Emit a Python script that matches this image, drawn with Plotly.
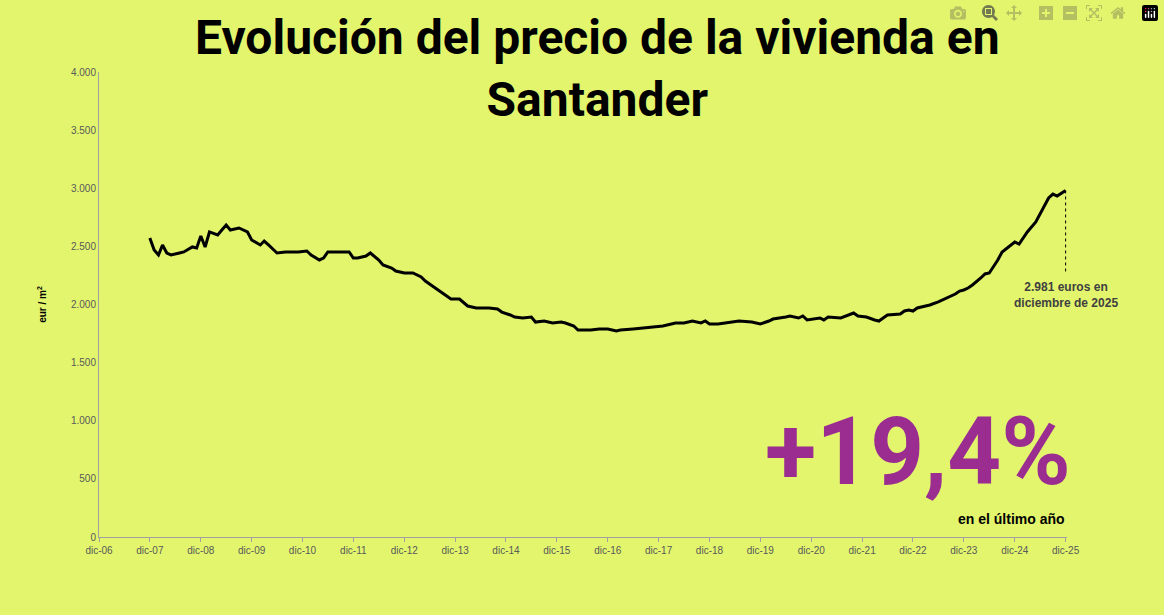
import plotly.graph_objects as go
import pandas as pd

months_since_dec07 = [0,1,2,3,4,5,7,8,10,11,12,13,14,16,17,18,19,21,23,24,26,27,28,30,32,35,37,38,40,41,42,45,47,48,49,51,52,54,55,57,58,60,62,64,65,67,68,70,71,73,74,75,77,80,82,83,85,86,88,90,91,93,95,97,98,100,101,104,106,108,110,111,114,117,119,121,124,126,128,130,131,132,134,137,139,142,144,146,147,150,151,153,154,155,157,158,159,160,163,165,166,167,169,171,172,173,174,177,178,179,180,181,184,186,187,188,190,191,192,193,194,196,197,198,199,200,201,203,204,205,206,207,209,210,211,212,213,214,216]
precio = [2572,2469,2426,2512,2443,2426,2443,2452,2495,2486,2589,2495,2624,2598,2641,2684,2641,2658,2624,2555,2512,2546,2512,2443,2452,2452,2460,2426,2383,2400,2452,2452,2452,2400,2400,2417,2443,2383,2340,2314,2288,2271,2271,2237,2202,2151,2125,2073,2047,2047,2013,1987,1970,1970,1961,1935,1910,1892,1884,1892,1849,1858,1841,1849,1841,1815,1780,1780,1789,1789,1772,1780,1789,1798,1806,1815,1841,1841,1858,1841,1858,1832,1832,1849,1858,1849,1832,1858,1875,1892,1901,1884,1901,1867,1875,1884,1867,1892,1884,1910,1927,1901,1892,1867,1858,1884,1910,1918,1944,1953,1944,1970,1996,2022,2039,2056,2090,2116,2125,2142,2168,2228,2263,2271,2323,2383,2452,2512,2538,2520,2572,2624,2710,2778,2856,2916,2950,2933,2981]
tick_labels = [f"dic-{y:02d}" for y in range(6, 26)]
y_ticks = list(range(0, 4001, 500))

dates = [pd.Timestamp("2007-12-01") + pd.DateOffset(months=m) for m in months_since_dec07]
tick_dates = [pd.Timestamp(f"20{y:02d}-12-01") for y in range(6, 26)]

bg = "#E2F56D"
fig = go.Figure(go.Scatter(x=dates, y=precio, mode="lines",
                           line=dict(color="black", width=3), hoverinfo="skip"))
fig.update_layout(
    width=1164, height=615, paper_bgcolor=bg, plot_bgcolor=bg,
    margin=dict(l=99, r=97, t=72, b=78), showlegend=False,
    separators=",.", font=dict(family="Liberation Sans", color="#595959", size=10),
    xaxis=dict(range=[tick_dates[0], tick_dates[-1] + pd.Timedelta(days=10)],
               tickvals=tick_dates, ticktext=tick_labels, showgrid=False,
               showline=True, linecolor="#A0A0A0", ticks="outside", ticklen=4,
               tickcolor="#A0A0A0", zeroline=False),
    yaxis=dict(range=[0, 4000], tickvals=y_ticks, tickformat=",d", showgrid=False,
               showline=True, linecolor="#A0A0A0", zeroline=False,
               title=dict(text="<b>eur / m<sup>2</sup></b>", font=dict(size=10, color="black"), standoff=22)),
)
fig.add_annotation(xref="paper", yref="paper", x=0.515, y=1.14, yanchor="top", showarrow=False,
                   text="<b>Evolución del precio de la vivienda en<br>Santander</b>",
                   font=dict(family="Roboto", size=48, color="black"))
fig.add_shape(type="line", x0=dates[-1], x1=dates[-1], y0=precio[-1], y1=2270,
              line=dict(color="black", width=1, dash="dot"))
fig.add_annotation(x=dates[-1], y=2230, showarrow=False, yanchor="top",
                   text="<b>2.981 euros en<br>diciembre de 2025</b>",
                   font=dict(size=12, color="#404040"))
fig.add_annotation(xref="paper", yref="paper", x=1.006, y=0.06, xanchor="right", yanchor="bottom",
                   showarrow=False, text="<b>+19,4%</b>",
                   font=dict(family="Roboto", size=94, color="#9B2D91"))
fig.add_annotation(xref="paper", yref="paper", x=1.0, y=0.06, xanchor="right", yanchor="top",
                   showarrow=False, text="<b>en el último año</b>",
                   font=dict(size=14, color="black"))
fig.write_html("out.html")
with open("out.html", encoding="utf-8") as f:
    html = f.read()
html = html.replace("<head>", "<head><style>html,body{margin:0;padding:0;overflow:hidden;}</style>", 1)
with open("out.html", "w", encoding="utf-8") as f:
    f.write(html)
